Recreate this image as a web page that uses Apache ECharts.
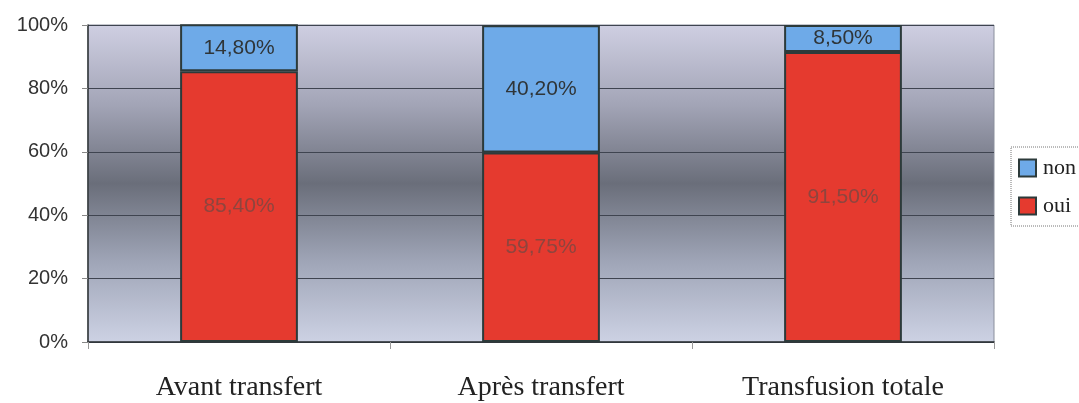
<!DOCTYPE html>
<html>
<head>
<meta charset="utf-8">
<script src="https://cdn.jsdelivr.net/npm/echarts@6/dist/echarts.min.js"></script>
<style>
  html, body { margin: 0; padding: 0; background: #fff; }
  #chart { width: 1079px; height: 403px; }
</style>
</head>
<body>
<div id="chart"></div>
<script>
// catégories et séries
const categories = ['Avant transfert', 'Après transfert', 'Transfusion totale']
const ouiValues = [85.40, 59.75, 91.50]
const nonValues = [14.80, 40.20, 8.50]
const yTicks = [0, 20, 40, 60, 80, 100]

const chart = echarts.init(document.getElementById('chart'))

function pct(v) {
  return v.toFixed(2).replace('.', ',') + '%'
}

const option = {
  animation: false,
  grid: {
    left: 88,
    right: 85,
    top: 25,
    bottom: 61,
    show: true,
    borderColor: '#8a8f9c',
    borderWidth: 1,
    backgroundColor: new echarts.graphic.LinearGradient(0, 0, 0, 1, [
      { offset: 0, color: '#cfcfe2' },
      { offset: 0.25, color: '#a3a5b7' },
      { offset: 0.5, color: '#6a6e7a' },
      { offset: 0.75, color: '#a0a6b8' },
      { offset: 1, color: '#cdd2e4' }
    ])
  },
  legend: {
    data: ['non', 'oui'],
    orient: 'vertical',
    left: 1011,
    top: 147,
    itemWidth: 17,
    itemHeight: 17,
    itemGap: 16,
    icon: 'rect',
    padding: [10, 20, 9, 7],
    borderColor: '#777',
    borderWidth: 1,
    borderType: 'dotted',
    itemStyle: { borderWidth: 2, borderColor: '#2c3a3a' },
    textStyle: {
      fontFamily: 'Liberation Serif',
      fontSize: 22,
      color: '#222',
      padding: [0, 0, 0, 2]
    }
  },
  xAxis: {
    type: 'category',
    data: categories,
    axisLine: { lineStyle: { color: '#2e3336', width: 1.5 } },
    axisTick: { show: true, length: 7, lineStyle: { color: '#999' } },
    axisLabel: {
      margin: 32,
      fontFamily: 'Liberation Serif',
      fontSize: 28,
      color: '#222'
    }
  },
  yAxis: {
    type: 'value',
    min: yTicks[0],
    max: yTicks[yTicks.length - 1],
    interval: 20,
    axisLine: { show: true, lineStyle: { color: '#2e3336', width: 1.5 } },
    axisTick: { show: true, length: 6, lineStyle: { color: '#888' } },
    axisLabel: {
      margin: 20,
      fontFamily: 'Liberation Sans',
      fontSize: 20,
      color: '#333',
      formatter: v => v + '%'
    },
    splitLine: { lineStyle: { color: '#3f4450', width: 1 } }
  },
  series: [
    {
      name: 'oui',
      type: 'bar',
      stack: 'total',
      data: ouiValues,
      barWidth: '39%',
      itemStyle: { color: '#e53a2f', borderColor: '#2c3a3a', borderWidth: 2 },
      label: {
        show: true,
        position: 'inside',
        fontFamily: 'Liberation Sans',
        fontSize: 21,
        color: '#8e453e',
        formatter: p => pct(p.value)
      }
    },
    {
      name: 'non',
      type: 'bar',
      stack: 'total',
      data: nonValues,
      barWidth: '39%',
      itemStyle: { color: '#6eaae8', borderColor: '#2c3a3a', borderWidth: 2 },
      label: {
        show: true,
        position: 'inside',
        fontFamily: 'Liberation Sans',
        fontSize: 21,
        color: '#2f3538',
        formatter: p => pct(p.value)
      }
    }
  ]
}

chart.setOption(option)
</script>
</body>
</html>
